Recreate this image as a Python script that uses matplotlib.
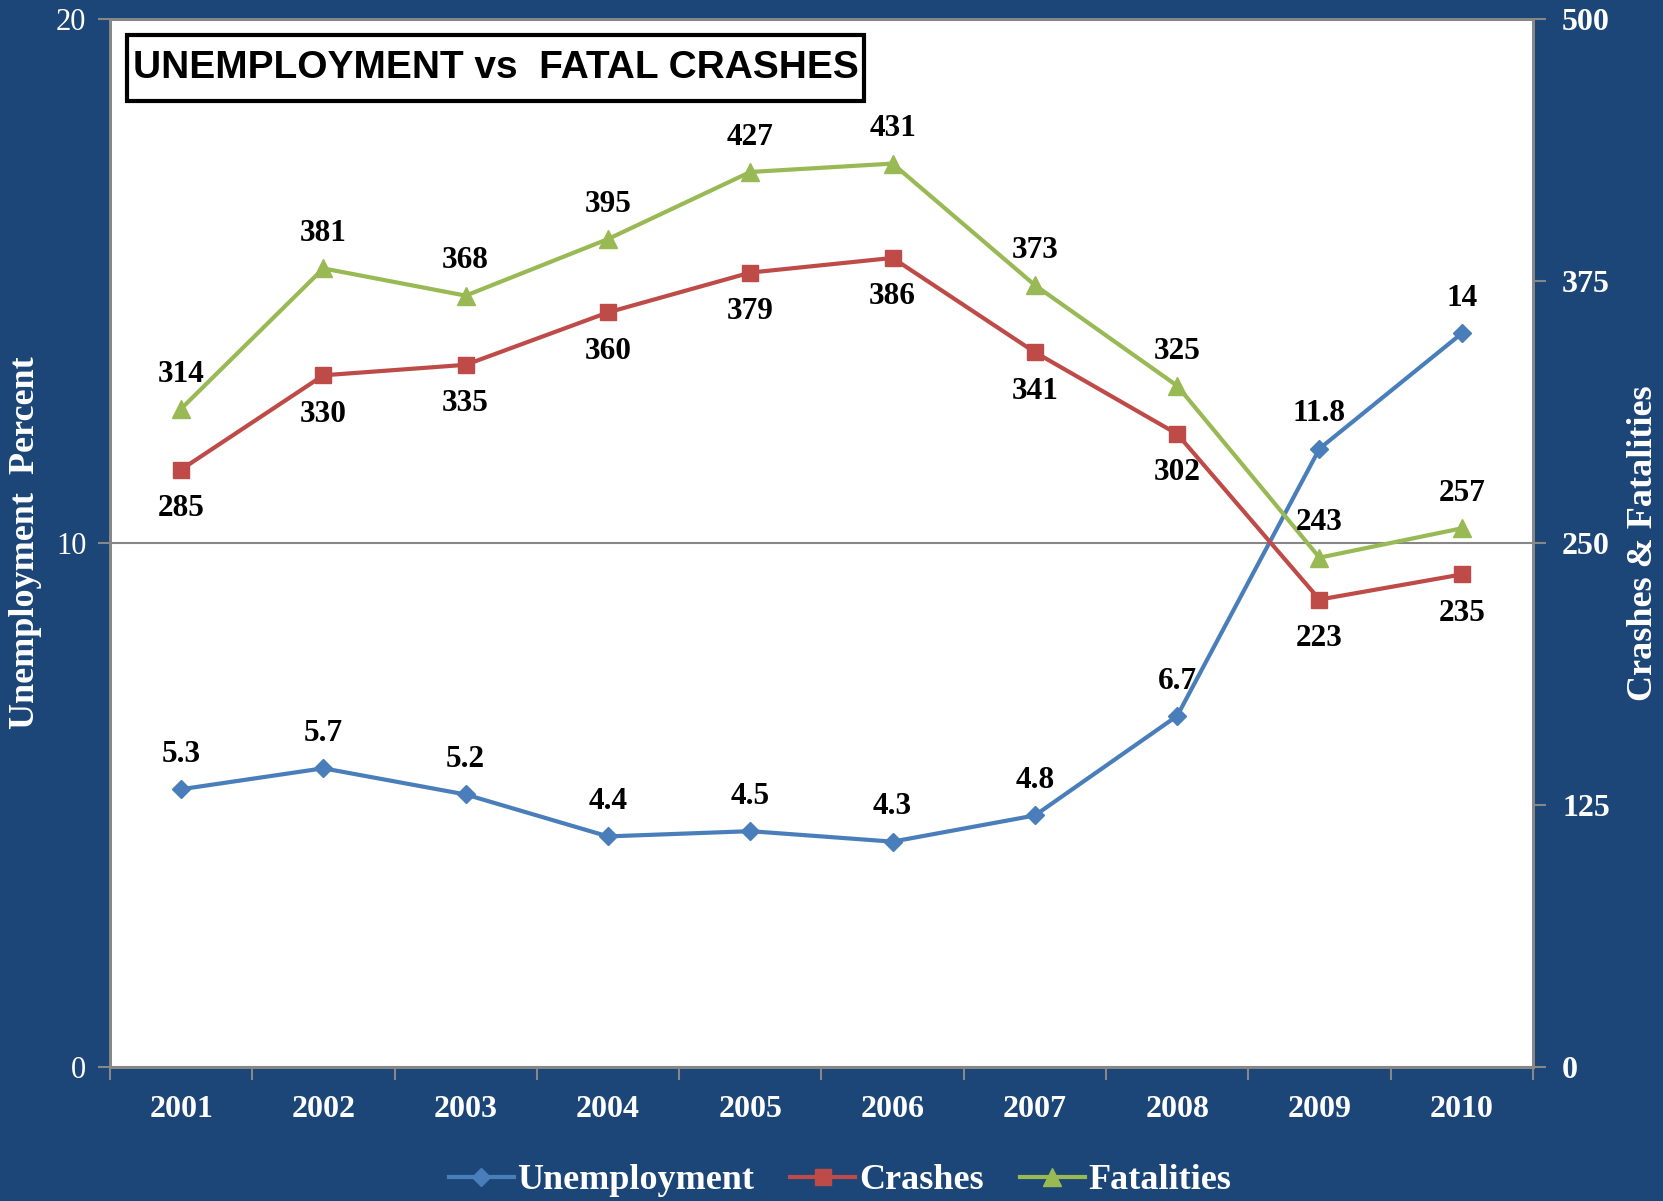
import matplotlib
matplotlib.use("Agg")
import matplotlib.pyplot as plt
from matplotlib.ticker import FixedLocator, NullFormatter
from matplotlib.patches import Rectangle

years = ["2001", "2002", "2003", "2004", "2005", "2006", "2007", "2008", "2009", "2010"]
unemployment = [5.3, 5.7, 5.2, 4.4, 4.5, 4.3, 4.8, 6.7, 11.8, 14]
crashes = [285, 330, 335, 360, 379, 386, 341, 302, 223, 235]
fatalities = [314, 381, 368, 395, 427, 431, 373, 325, 243, 257]
left_ticks = [0, 10, 20]
right_ticks = [0, 125, 250, 375, 500]

BG = "#1C4677"
BLUE = "#4A7EBB"
RED = "#BE4B48"
GREEN = "#98B954"
GRAY = "#878787"
SERIF = ["Liberation Serif", "DejaVu Serif"]

plt.rcParams["font.family"] = SERIF

fig = plt.figure(figsize=(16.63, 12.01), dpi=100, facecolor=BG)
ax1 = fig.add_axes([0.0661, 0.1116, 0.8557, 0.8726])
ax1.set_facecolor("white")
ax2 = ax1.twinx()
ax2.patch.set_visible(False)

x = list(range(len(years)))

l1, = ax1.plot(x, unemployment, color=BLUE, lw=3.0, marker="D", ms=9,
               label="Unemployment", zorder=3)
l2, = ax2.plot(x, crashes, color=RED, lw=3.0, marker="s", ms=11,
               label="Crashes", zorder=3)
l3, = ax2.plot(x, fatalities, color=GREEN, lw=3.0, marker="^", ms=13,
               label="Fatalities", zorder=3)

lab_kw = dict(textcoords="offset points", ha="center", va="center",
              fontsize=22.5, fontweight="bold", color="black", family=SERIF)
for xi, v in zip(x, unemployment):
    ax1.annotate(f"{v:g}", (xi, v), xytext=(0, 25), **lab_kw)
for xi, v in zip(x, crashes):
    ax2.annotate(f"{v:g}", (xi, v), xytext=(0, -28), **lab_kw)
for xi, v in zip(x, fatalities):
    ax2.annotate(f"{v:g}", (xi, v), xytext=(0, 25), **lab_kw)

ax1.set_xlim(-0.5, len(years) - 0.5)
ax1.set_ylim(0, 20)
ax2.set_ylim(0, 500)

# category boundary ticks
ax1.xaxis.set_major_locator(FixedLocator([i - 0.5 for i in range(len(years) + 1)]))
ax1.xaxis.set_major_formatter(NullFormatter())
ax1.xaxis.set_minor_locator(FixedLocator(x))
ax1.set_xticklabels(years, minor=True)
ax1.tick_params(axis="x", which="major", direction="out", length=9, width=1.5,
                color=GRAY)
ax1.tick_params(axis="x", which="minor", length=0, pad=20, labelsize=23,
                labelcolor="white")
for t in ax1.get_xticklabels(minor=True):
    t.set_fontweight("bold")

ax1.set_yticks(left_ticks)
ax1.tick_params(axis="y", direction="out", length=9, width=1.5, color=GRAY,
                labelsize=22, labelcolor="white", pad=8)
ax2.set_yticks(right_ticks)
ax2.tick_params(axis="y", direction="out", length=9, width=1.5, color=GRAY,
                labelsize=23, labelcolor="white", pad=12)
for t in ax2.get_yticklabels():
    t.set_fontweight("bold")

ax1.grid(axis="y", color=GRAY, lw=1.5)
ax1.set_axisbelow(True)
for ax in (ax1, ax2):
    for s in ax.spines.values():
        s.set_color(GRAY)
        s.set_linewidth(2)

ax1.set_ylabel("Unemployment  Percent", color="white", fontsize=26,
               fontweight="bold", labelpad=10)
ax2.set_ylabel("Crashes & Fatalities", color="white", fontsize=26,
               fontweight="bold", labelpad=12)

# title box
ax1.add_patch(Rectangle((0.0119, 0.922), 0.5183, 0.063, transform=ax1.transAxes,
                        facecolor="white", edgecolor="black", lw=3, zorder=9))
ax1.text(0.2711, 0.9535, "UNEMPLOYMENT vs  FATAL CRASHES", transform=ax1.transAxes,
         ha="center", va="center", fontsize=28, fontweight="bold",
         family=["Liberation Sans", "DejaVu Sans"],
         color="black", zorder=10)

leg = fig.legend(handles=[l1, l2, l3], loc="lower center",
                 bbox_to_anchor=(0.505, -0.024), ncol=3, frameon=False,
                 fontsize=26, handlelength=1.8, handletextpad=0.1,
                 columnspacing=1.0)
for t in leg.get_texts():
    t.set_color("white")
    t.set_fontweight("bold")

fig.savefig("out.png", dpi=100, facecolor=BG)
